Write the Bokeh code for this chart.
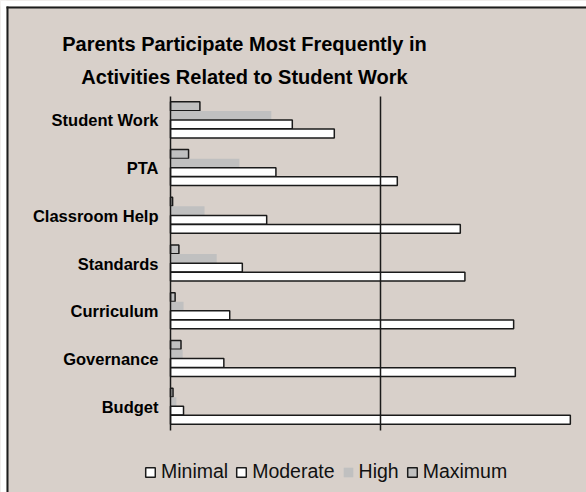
from bokeh.plotting import figure
from bokeh.models import (ColumnDataSource, Range1d, FixedTicker, Legend, LegendItem, Label,
                          LinearAxis, BoxAnnotation)
from bokeh.transform import dodge
from bokeh.embed import file_html
from bokeh.resources import INLINE

categories = ["Student Work", "PTA", "Classroom Help", "Standards", "Curriculum", "Governance", "Budget"]
minimal = [39.0, 54.0, 69.0, 70.1, 81.7, 82.1, 95.2]
moderate = [29.0, 25.1, 22.9, 17.1, 14.1, 12.7, 3.1]
high = [24.0, 16.4, 8.1, 11.0, 3.1, 2.9, 1.4]
maximum = [7.0, 4.3, 0.5, 2.0, 1.1, 2.5, 0.6]
series_names = ["Minimal", "Moderate", "High", "Maximum"]
title_lines = ["Parents Participate Most Frequently in", "Activities Related to Student Work"]

BG = "#d8d0ca"
FONT = "Liberation Sans"
W, H = 586, 492
# layout (pixels)
AX_X, PLOT_TOP, PLOT_BOTTOM = 170, 96, 430
PX_PER_UNIT_X = 4.2
n = len(categories)
PX_PER_CAT = (PLOT_BOTTOM - PLOT_TOP) / n

x0 = -AX_X / PX_PER_UNIT_X
x1 = (W - AX_X) / PX_PER_UNIT_X
y0 = -(H - PLOT_BOTTOM) / PX_PER_CAT
y1 = n + PLOT_TOP / PX_PER_CAT

ypos = [n - i - 0.5 for i in range(n)]
src = ColumnDataSource(dict(y=ypos, minimal=minimal, moderate=moderate, high=high, maximum=maximum))

p = figure(width=W, height=H, output_backend="svg", toolbar_location=None,
           x_range=Range1d(x0, x1), y_range=Range1d(y0, y1), min_border=0,
           background_fill_color=BG, border_fill_color=BG, outline_line_color=None)

hgt = 0.185
shift = 0.01
r_max = p.hbar(y=dodge("y", 0.285 + shift), right="maximum", left=0, height=hgt, source=src,
               fill_color="#c0c0c0", line_color="#1a1a1a", line_width=1.5)
r_high = p.hbar(y=dodge("y", 0.095 + shift), right="high", left=0, height=hgt, source=src,
                fill_color="#c0c0c0", line_color=None)
r_mod = p.hbar(y=dodge("y", -0.095 + shift), right="moderate", left=0, height=hgt, source=src,
               fill_color="white", line_color="#1a1a1a", line_width=1.5)
r_min = p.hbar(y=dodge("y", -0.285 + shift), right="minimal", left=0, height=hgt, source=src,
               fill_color="white", line_color="#1a1a1a", line_width=1.5)

p.xaxis.visible = False
p.xgrid.visible = False
p.ygrid.visible = False

ax = p.yaxis[0]
ax.fixed_location = 0
ax.bounds = (0, n)
ax.ticker = FixedTicker(ticks=ypos)
ax.major_label_overrides = {yv: c for yv, c in zip(ypos, categories)}
ax.axis_line_color = "#1a1a1a"
ax.axis_line_width = 1.5
ax.major_tick_line_color = None
ax.minor_tick_line_color = None
ax.major_tick_out = 0
ax.major_tick_in = 0
ax.major_label_standoff = 12
ax.major_label_text_font = FONT
ax.major_label_text_font_style = "bold"
ax.major_label_text_font_size = "16.5px"
ax.major_label_text_color = "black"

# 50 % grid line drawn as a bare axis line
gl = LinearAxis(fixed_location=50, bounds=(0, n), ticker=FixedTicker(ticks=[]),
                axis_line_color="#1a1a1a", axis_line_width=1.5,
                major_tick_line_color=None, minor_tick_line_color=None,
                major_tick_out=0, major_tick_in=0, major_label_text_alpha=0)
p.add_layout(gl, "left")

legend = Legend(items=[LegendItem(label=series_names[0], renderers=[r_min]),
                       LegendItem(label=series_names[1], renderers=[r_mod]),
                       LegendItem(label=series_names[2], renderers=[r_high]),
                       LegendItem(label=series_names[3], renderers=[r_max])],
                orientation="horizontal", location=(144, 9),
                background_fill_alpha=0, border_line_color=None,
                label_text_font=FONT, label_text_font_size="19.5px", label_text_color="#111111",
                glyph_width=12, glyph_height=12, label_standoff=5, spacing=7, padding=0, margin=0)
p.add_layout(legend, "center")

for i, t in enumerate(title_lines):
    p.add_layout(Label(x=244, y=H - 43 - 33 * i, x_units="screen", y_units="screen", text=t,
                       text_align="center", text_baseline="alphabetic", text_font=FONT,
                       text_font_style="bold", text_font_size="20px", text_color="black"))

# outer chart frame: white page margin and dark border on top/left
ux = 1 / PX_PER_UNIT_X
uy = 1 / PX_PER_CAT
p.add_layout(BoxAnnotation(right=x0 + 6 * ux, fill_color="white", fill_alpha=1, line_color=None))
p.add_layout(BoxAnnotation(bottom=y1 - 6 * uy, fill_color="white", fill_alpha=1, line_color=None))
p.add_layout(BoxAnnotation(left=x0 + 6 * ux, right=x0 + 8 * ux, top=y1 - 6 * uy,
                           fill_color="#1c1c1c", fill_alpha=1, line_color=None))
p.add_layout(BoxAnnotation(left=x0 + 6 * ux, top=y1 - 6 * uy, bottom=y1 - 8 * uy,
                           fill_color="#1c1c1c", fill_alpha=1, line_color=None))

html = file_html(p, INLINE)
html = html.replace("<body>", '<body style="margin:0;background:white;">', 1)
open("out.html", "w").write(html)
